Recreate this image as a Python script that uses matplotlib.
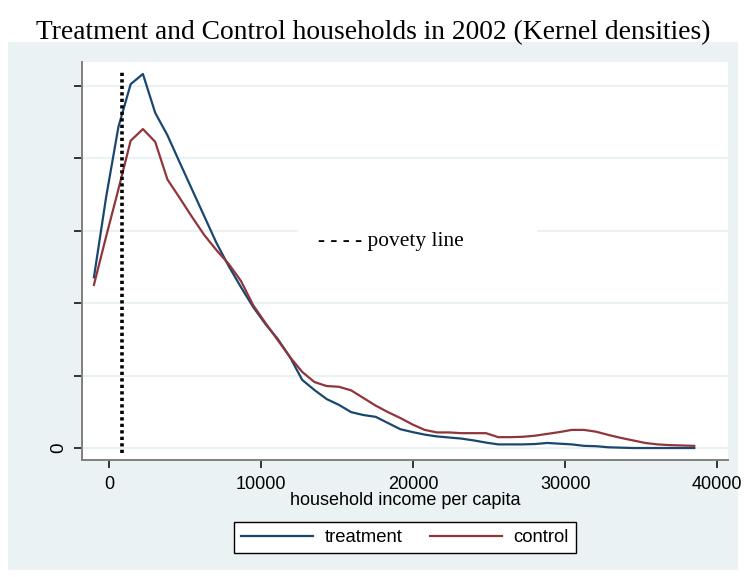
import matplotlib.pyplot as plt
from matplotlib.patches import Rectangle
from matplotlib.lines import Line2D

# evaluation grid of the kernel density (household income per capita)
income = [-1000, -194, 612, 1418, 2224, 3030, 3836, 4642, 5448, 6254,
          7060, 7866, 8672, 9478, 10284, 11090, 11896, 12702, 13508, 14314,
          15120, 15926, 16732, 17538, 18344, 19150, 19956, 20762, 21568, 22374,
          23180, 23986, 24792, 25598, 26404, 27210, 28016, 28822, 29628, 30434,
          31240, 32046, 32852, 33658, 34464, 35270, 36076, 36882, 37688, 38494]

# densities, in units of 1e-5
treatment = [4.71, 6.93, 8.86, 10.04, 10.32, 9.25, 8.63, 7.88, 7.14, 6.40,
             5.66, 5.02, 4.44, 3.89, 3.42, 3.01, 2.51, 1.88, 1.60, 1.35,
             1.19, 0.99, 0.91, 0.86, 0.69, 0.52, 0.44, 0.37, 0.32, 0.29,
             0.26, 0.21, 0.15, 0.10, 0.10, 0.10, 0.11, 0.14, 0.12, 0.10,
             0.06, 0.05, 0.02, 0.01, 0.0, 0.0, 0.0, 0.0, 0.0, 0.0]
control = [4.50, 5.84, 7.14, 8.48, 8.80, 8.45, 7.41, 6.90, 6.38, 5.88,
           5.46, 5.08, 4.61, 3.94, 3.45, 2.98, 2.51, 2.10, 1.82, 1.71,
           1.69, 1.59, 1.38, 1.17, 0.99, 0.83, 0.65, 0.50, 0.43, 0.43,
           0.41, 0.41, 0.41, 0.30, 0.30, 0.31, 0.34, 0.39, 0.44, 0.50,
           0.50, 0.45, 0.36, 0.28, 0.21, 0.14, 0.10, 0.08, 0.07, 0.06]

POVERTY_LINE = 850
x_ticks = [0, 10000, 20000, 30000, 40000]
y_ticks = [0, 2, 4, 6, 8, 10]
y_ticklabels = ["0", "", "", "", "", ""]

BLUE = "#1a476f"
RED = "#90353b"
BG = "#eaf2f3"
SERIF = "Liberation Serif"
SANS = "Liberation Sans"

fig = plt.figure(figsize=(7.46, 5.77), dpi=100)
fig.patch.set_facecolor("white")
fig.patches.append(Rectangle((0.0107, 0.0121), 0.9786, 0.915, transform=fig.transFigure,
                             facecolor=BG, edgecolor="none", zorder=-5))

fig.text(0.5, 0.943, "Treatment and Control households in 2002 (Kernel densities)",
         ha="center", va="center", fontsize=19.8, family=SERIF)

ax = fig.add_axes([0.110, 0.2028, 0.866, 0.6897])
ax.set_zorder(2)
ax.set_facecolor("white")
ax.set_xlim(-1780, 40720)
ax.set_ylim(-0.33, 10.65)

for yv in y_ticks:
    ax.axhline(yv, color=BG, linewidth=1.5, zorder=1)

ax.plot(income, treatment, color=BLUE, linewidth=1.6, zorder=3)
ax.plot(income, control, color=RED, linewidth=1.6, zorder=3)
ax.vlines(POVERTY_LINE, -0.13, 10.38, color="black", linewidth=2.6,
          linestyles=(0, (0.9, 0.9)), zorder=4)

# key for the poverty line, on a white patch over the grid
ax.add_patch(Rectangle((0.334, 0.497), 0.37, 0.106, transform=ax.transAxes,
                       facecolor="white", edgecolor="none", zorder=2))
ax.text(0.478, 0.550, "- - - - povety line", transform=ax.transAxes,
        ha="center", va="center", fontsize=15.4, family=SERIF, zorder=5)

for side in ["top", "right"]:
    ax.spines[side].set_visible(False)
for side in ["left", "bottom"]:
    ax.spines[side].set_color("#7f7f7f")
    ax.spines[side].set_linewidth(1.4)

ax.set_xticks(x_ticks)
ax.set_xticklabels([str(v) for v in x_ticks], family=SANS, fontsize=13)
ax.set_yticks(y_ticks)
ax.set_yticklabels(y_ticklabels, family=SANS, fontsize=13.5, rotation=90, va="center")
ax.tick_params(axis="x", direction="out", length=5.5, width=1.1, color="black", pad=6)
ax.tick_params(axis="y", direction="out", length=5.5, width=1.1, color="black", pad=5)
ax.set_xlabel("household income per capita", family=SANS, fontsize=13, labelpad=-1)

handles = [Line2D([], [], color=BLUE, linewidth=1.6),
           Line2D([], [], color=RED, linewidth=1.6)]
leg = fig.legend(handles, ["treatment", "control"], loc="center",
                 bbox_to_anchor=(405 / 746, (577 - 537.5) / 577), ncol=2,
                 prop={"family": SANS, "size": 13.3}, frameon=True, fancybox=False,
                 edgecolor="black", facecolor="white", framealpha=1,
                 handlelength=3.9, handletextpad=0.6, columnspacing=1.5,
                 borderpad=0.4)
leg.get_frame().set_linewidth(1.0)

fig.savefig("out.png", dpi=100)
